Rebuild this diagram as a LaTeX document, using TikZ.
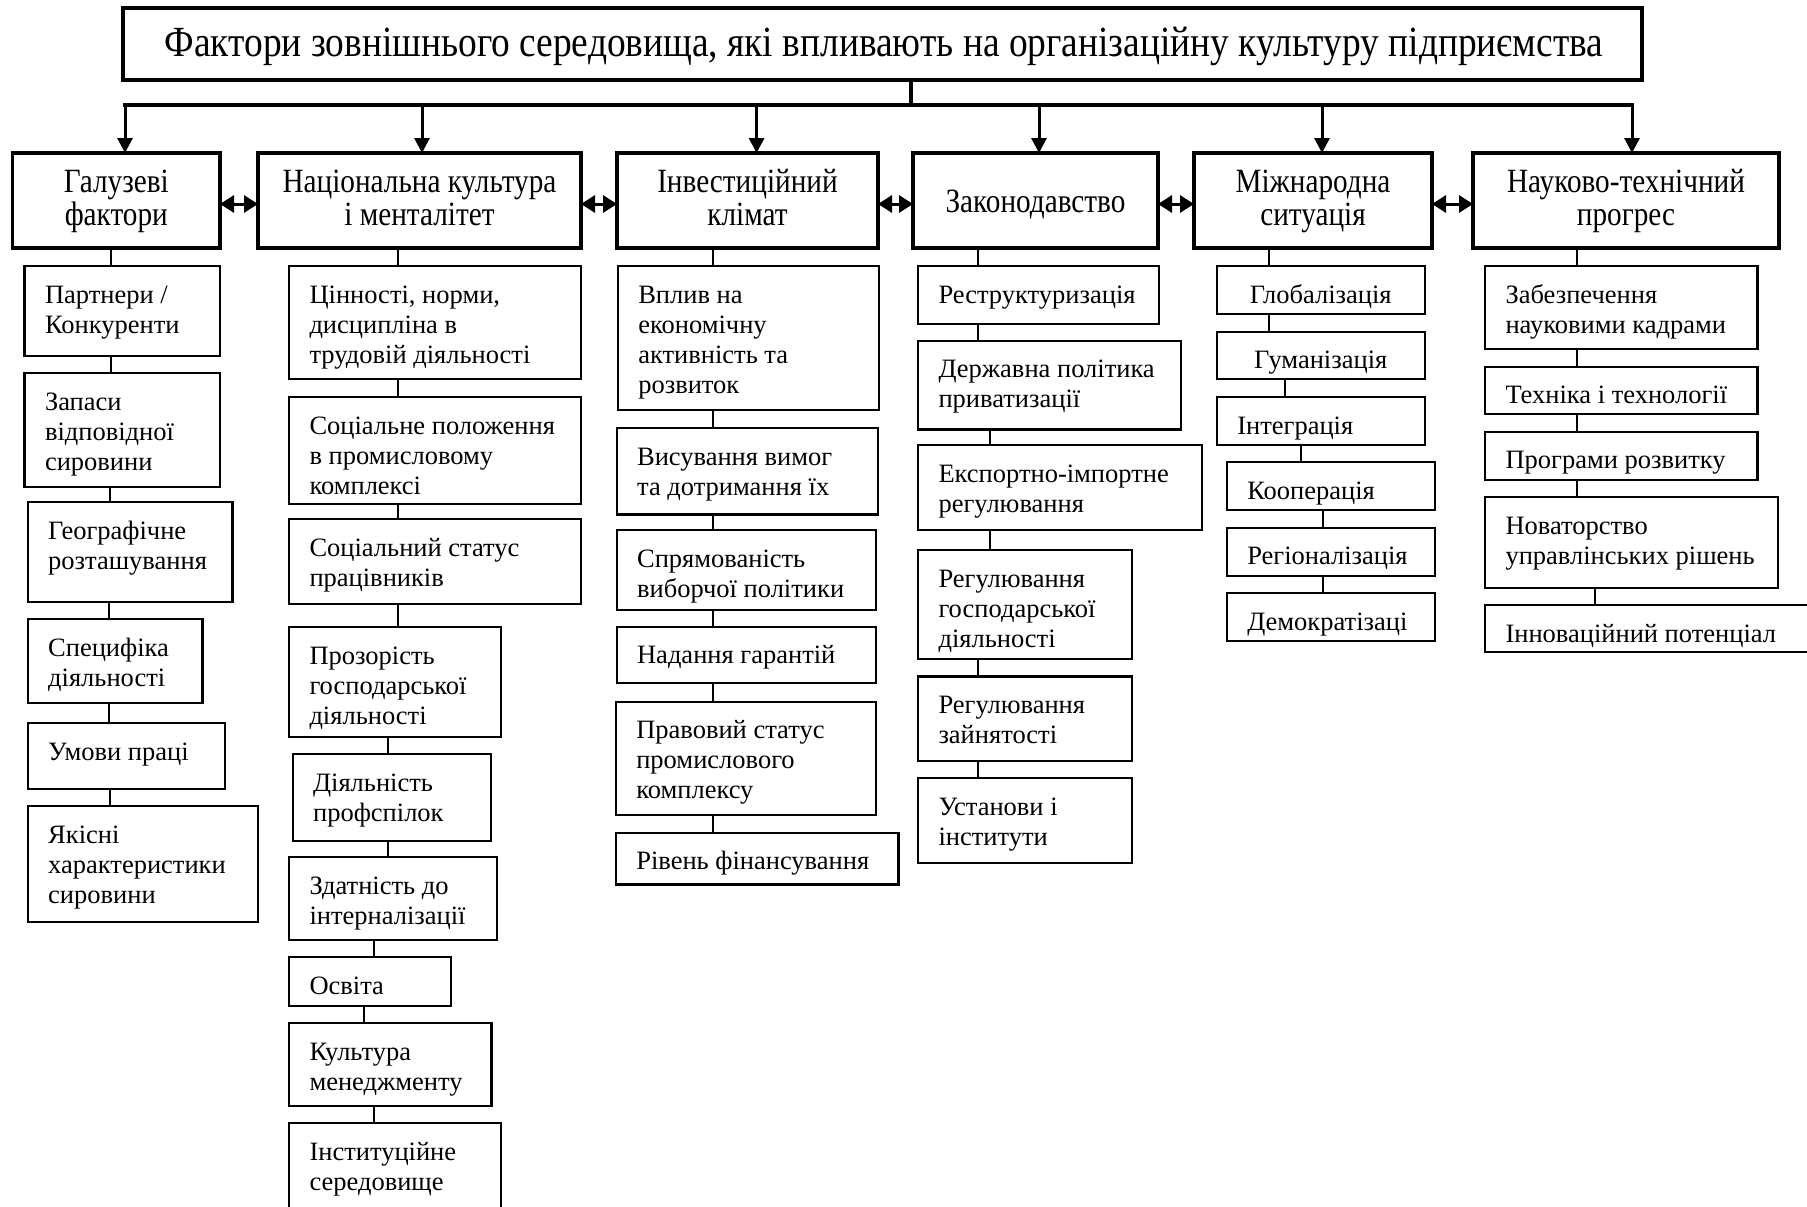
\documentclass[tikz,border=0pt]{standalone}
\usepackage{fontspec}
\setmainfont{Liberation Serif}
\newfontfamily\headff[FakeStretch=0.86]{Liberation Serif}
\newfontfamily\titleff[FakeStretch=0.87]{Liberation Serif}
\usetikzlibrary{arrows.meta,calc}

\newcommand\subfont{\fontsize{26.5}{30}\selectfont}
\newcommand\headfont{\headff\fontsize{34}{33}\selectfont\lineskiplimit=-100pt\relax}
\newcommand\titlefont{\titleff\fontsize{43}{45}\selectfont}
\newcommand\hstrut{\rule{0pt}{24pt}}

\tikzset{
  sbox/.style={draw, line width=2.2pt, inner sep=0pt, outer sep=0pt, anchor=north west},
  hbox/.style={draw, line width=3.6pt, inner sep=0pt, outer sep=0pt, anchor=north west},
  tbox/.style={draw, line width=4.6pt, inner sep=0pt, outer sep=0pt, anchor=north west},
  stxt/.style={inner sep=0pt, outer sep=0pt, anchor=north west, align=left, font=\subfont},
  ctxt/.style={inner sep=0pt, outer sep=0pt, anchor=north, align=center, font=\subfont},
  htxt/.style={inner sep=0pt, outer sep=0pt, anchor=north, align=center, font=\headfont},
  conn/.style={line width=2pt},
  busline/.style={line width=4.2pt},
  downarrow/.style={line width=3pt, -{Triangle[length=15pt,width=15pt]}},
  duo/.style={line width=3pt, {Triangle[length=14pt,width=17pt]}-{Triangle[length=14pt,width=17pt]}},
}

% sub box: name, x1, y1, x2, y2, text
\newcommand\sbx[6]{%
  \node[sbox, minimum width={#4-#2}, minimum height={#5-#3}] (#1) at (#2,#3) {};
  \node[stxt] (#1t) at ({#2+20.5},{#3+16}) {\strut #6};}
% centred sub box
\newcommand\cbx[6]{%
  \node[sbox, minimum width={#4-#2}, minimum height={#5-#3}] (#1) at (#2,#3) {};
  \node[ctxt] (#1t) at ({(#2+#4)/2},{#3+16}) {\strut #6};}
% header box: name, x1, x2, text top, text
\newcommand\hbx[5]{%
  \node[hbox, minimum width={#3-#2}, minimum height=95] (#1) at (#2,153) {};
  \node[htxt] (#1t) at ({(#2+#3)/2},#4) {\hstrut #5};}
% connector: from, to, x
\newcommand\lnk[3]{\path (#3,0) coordinate (lx); \draw[conn] (#1.south -| lx) -- (#2.north -| lx);}
\newcommand\dn[2]{\path (#2,0) coordinate (lx); \draw[downarrow] (bus -| lx) -- (#1.north -| lx);}

\begin{document}
\begin{tikzpicture}[x=1pt,y=-1pt]
\clip (0,0) rectangle (1807,1207);
\fill[white] (0,0) rectangle (1807,1207);

% title
\node[tbox, minimum width=1519, minimum height=72] (title) at (123,8) {};
\node[inner sep=0pt, anchor=base, font=\titlefont] (titlet) at (884,57)
  {Фактори зовнішнього середовища, які впливають на організаційну культуру підприємства};

% bus
\coordinate (bus) at (0,105);
\coordinate (busL) at (123,105);
\coordinate (busR) at (1634,105);
\draw[busline] (busL) -- (busR);
\path (911,0) coordinate (sx);
\draw[busline] (title.south -| sx) -- (bus -| sx);

% headers
\hbx{h1}{12.6}{220}{168}{Галузеві\\фактори}
\hbx{h2}{258}{581}{168}{Національна культура\\і менталітет}
\hbx{h3}{617}{878}{168}{Інвестиційний\\клімат}
\hbx{h4}{913}{1158}{188}{Законодавство}
\hbx{h5}{1194}{1432}{168}{Міжнародна\\ситуація}
\hbx{h6}{1473}{1779}{168}{Науково-технічний\\прогрес}

\dn{h1}{125}
\dn{h2}{422}
\dn{h3}{756.6}
\dn{h4}{1039}
\dn{h5}{1322}
\dn{h6}{1632}

\coordinate (ya) at (0,204);
\draw[duo] (h1.east |- ya) -- (h2.west |- ya);
\draw[duo] (h2.east |- ya) -- (h3.west |- ya);
\draw[duo] (h3.east |- ya) -- (h4.west |- ya);
\draw[duo] (h4.east |- ya) -- (h5.west |- ya);
\draw[duo] (h5.east |- ya) -- (h6.west |- ya);

% column 1
\sbx{g1}{24.5}{266}{220}{356}{Партнери /\\Конкуренти}
\sbx{g2}{24.5}{373}{220}{487}{Запаси\\відповідної\\сировини}
\sbx{g3}{27.7}{502}{232.5}{602}{Географічне\\розташування}
\sbx{g4}{27.7}{619}{202.4}{703}{Специфіка\\діяльності}
\sbx{g5}{27.7}{723}{225}{789}{Умови праці}
\sbx{g6}{27.7}{806}{258}{922}{Якісні\\характеристики\\сировини}
\lnk{h1}{g1}{110.5}
\lnk{g1}{g2}{110.5}
\lnk{g2}{g3}{110}
\lnk{g3}{g4}{109}
\lnk{g4}{g5}{109}
\lnk{g5}{g6}{110}

% column 2
\sbx{n1}{289}{266}{581}{379}{Цінності, норми,\\дисципліна в\\трудовій діяльності}
\sbx{n2}{289}{397}{581}{504}{Соціальне положення\\в промисловому\\комплексі}
\sbx{n3}{289}{519}{581}{604}{Соціальний статус\\працівників}
\sbx{n4}{289}{627}{501}{737}{Прозорість\\господарської\\діяльності}
\sbx{n5}{292.6}{754}{491}{841}{Діяльність\\профспілок}
\sbx{n6}{289}{857}{497}{940}{Здатність до\\інтерналізації}
\sbx{n7}{289}{957}{451}{1006}{Освіта}
\sbx{n8}{289}{1023}{491.5}{1106}{Культура\\менеджменту}
\sbx{n9}{289}{1123}{501}{1225}{Інституційне\\середовище}
\lnk{h2}{n1}{398}
\lnk{n1}{n2}{398}
\lnk{n2}{n3}{398}
\lnk{n3}{n4}{398}
\lnk{n4}{n5}{388}
\lnk{n5}{n6}{387.5}
\lnk{n6}{n7}{373.6}
\lnk{n7}{n8}{364}
\lnk{n8}{n9}{373.6}

% column 3
\sbx{i1}{617.8}{266}{878.8}{410}{Вплив на\\економічну\\активність та\\розвиток}
\sbx{i2}{616.6}{428}{877.6}{514.5}{Висування вимог\\та дотримання їх}
\sbx{i3}{616.6}{530}{876}{610}{Спрямованість\\виборчої політики}
\sbx{i4}{616.6}{626.6}{876}{683}{Надання гарантій}
\sbx{i5}{615.8}{701.6}{876}{815}{Правовий статус\\промислового\\комплексу}
\sbx{i6}{615.8}{832.6}{898.5}{884.5}{Рівень фінансування}
\lnk{h3}{i1}{712.7}
\lnk{i1}{i2}{712.7}
\lnk{i2}{i3}{712.7}
\lnk{i3}{i4}{712.7}
\lnk{i4}{i5}{712.7}
\lnk{i5}{i6}{712.7}

% column 4
\sbx{z1}{918}{266}{1158.7}{324}{Реструктуризація}
\sbx{z2}{918}{340.6}{1181}{429.5}{Державна політика\\приватизації}
\sbx{z3}{918}{445}{1201.8}{530}{Експортно-імпортне\\регулювання}
\sbx{z4}{918}{550}{1131.8}{659}{Регулювання\\господарської\\діяльності}
\sbx{z5}{918}{676.5}{1131.8}{761}{Регулювання\\зайнятості}
\sbx{z6}{918}{778}{1132}{863}{Установи і\\інститути}
\lnk{h4}{z1}{977.6}
\lnk{z1}{z2}{977.6}
\lnk{z2}{z3}{990.3}
\lnk{z3}{z4}{990.3}
\lnk{z4}{z5}{977.6}
\lnk{z5}{z6}{977.6}

% column 5
\cbx{m1}{1216.8}{266}{1424.7}{314.3}{Глобалізація}
\cbx{m2}{1216.8}{331.7}{1424.7}{379.3}{Гуманізація}
\sbx{m3}{1216.8}{397}{1424.7}{445}{Інтеграція}
\sbx{m4}{1226.8}{462}{1434.7}{510}{Кооперація}
\sbx{m5}{1226.8}{527.7}{1434.7}{575.7}{Регіоналізація}
\sbx{m6}{1226.8}{593}{1434.7}{640.7}{Демократізаці}
\lnk{h5}{m1}{1268.8}
\lnk{m1}{m2}{1268.8}
\lnk{m2}{m3}{1284.8}
\lnk{m3}{m4}{1300.8}
\lnk{m4}{m5}{1322.8}
\lnk{m5}{m6}{1322.8}

% column 6
\sbx{t1}{1485}{266}{1757.4}{349.3}{Забезпечення\\науковими кадрами}
\sbx{t2}{1485}{366.7}{1757.4}{414.3}{Техніка і технології}
\sbx{t3}{1485}{431.7}{1757.4}{480}{Програми розвитку}
\sbx{t4}{1485}{497}{1778}{587.7}{Новаторство\\управлінських рішень}
\sbx{t5}{1485}{605}{1820}{652}{Інноваційний потенціал}
\lnk{h6}{t1}{1576.7}
\lnk{t1}{t2}{1576.7}
\lnk{t2}{t3}{1576.7}
\lnk{t3}{t4}{1576.7}
\lnk{t4}{t5}{1594.8}
\end{tikzpicture}
\end{document}
